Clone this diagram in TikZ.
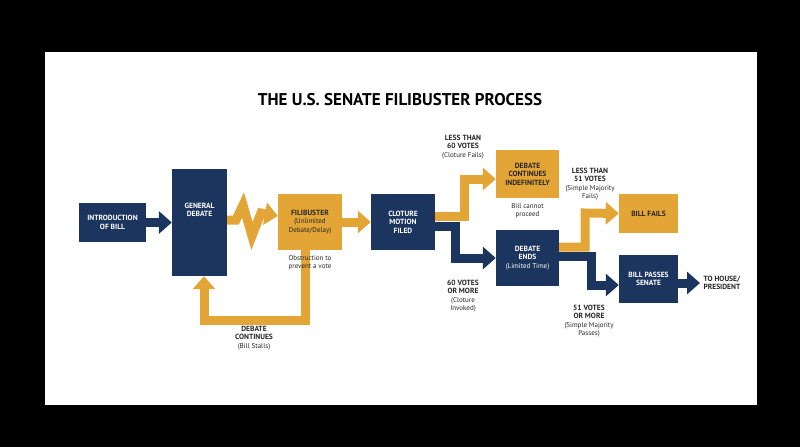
\documentclass[tikz,border=0pt]{standalone}
\usepackage{fontspec}
\setmainfont{PT Sans}
\usetikzlibrary{arrows.meta}
\definecolor{navy}{HTML}{1C355E}
\definecolor{gold}{HTML}{E3A536}
\newcommand\smtxt{\mdseries\fontsize{7}{8}\selectfont}
\begin{document}
\begin{tikzpicture}[x=1pt,y=-1pt,
  box/.style={draw=none,inner sep=1pt,align=center,font=\bfseries\fontsize{7.5}{8.5}\selectfont},
  nb/.style={fill=navy,text=white},
  gb/.style={fill=gold,text=black!85},
  lab/.style={align=center,font=\bfseries\fontsize{7.5}{8.5}\selectfont,text=black!85},
  note/.style={align=center,font=\fontsize{7}{8}\selectfont,text=black!85},
  ga/.style={draw=gold,line width=9pt,line join=miter,-{Triangle[width=22pt,length=13pt]}},
  na/.style={draw=navy,line width=9pt,line join=miter,-{Triangle[width=22pt,length=13pt]}}]
\fill[black] (0,0) rectangle (800,447);
\fill[white] (45,52) rectangle (757,405);
\node[font=\bfseries\fontsize{17}{19}\selectfont] (title) at (400,100) {THE U.S. SENATE FILIBUSTER PROCESS};
\node[box,nb,minimum width=67pt,minimum height=39pt] (intro) at (112.5,222.5) {INTRODUCTION\\OF BILL};
\node[box,nb,minimum width=55pt,minimum height=107pt] (gen) at (199.5,222.5) {};
\node[box,text=white] (gent) at (199.5,210) {GENERAL\\DEBATE};
\node[box,gb,minimum width=64pt,minimum height=56pt] (fil) at (310,222) {FILIBUSTER\\\smtxt (Unlimited\\\smtxt Debate/Delay)};
\node[box,nb,minimum width=64pt,minimum height=56pt] (clo) at (403,222) {CLOTURE\\MOTION\\FILED};
\node[box,gb,minimum width=63pt,minimum height=48pt] (dci) at (527.5,174) {DEBATE\\CONTINUES\\INDEFINITELY};
\node[box,nb,minimum width=63pt,minimum height=56pt] (den) at (527.5,258) {DEBATE\\ENDS\\\smtxt (Limited Time)};
\node[box,gb,minimum width=59pt,minimum height=39pt] (fail) at (648.5,213.5) {BILL FAILS};
\node[box,nb,minimum width=59pt,minimum height=48pt] (pass) at (648.5,279) {BILL PASSES\\SENATE};
\node[lab,anchor=west] (house) at (700,283) {TO HOUSE/\\PRESIDENT};
% connectors
\draw[na] (intro.east) -- (gen.west|-intro.east);
\draw[ga] ([yshift=2.5pt]gen.east) -- (236,220) -- (243,205) -- (252,236) -- (261,213) -- ([yshift=6pt]fil.west);
\draw[ga] (fil.east) -- (clo.west);
\draw[ga] ([xshift=-5pt]fil.south) -- (305,320) -- (204,320) -- ([xshift=4.5pt]gen.south);
\draw[ga] ([yshift=6pt]clo.east) -- (464,216) -- (464,179) -- ([yshift=-5pt]dci.west);
\draw[na] ([yshift=-4pt]clo.east) -- (455,226) -- (455,258) -- (den.west);
\draw[ga] ([yshift=11pt]den.east) -- (585,247) -- (585,213) -- (fail.west);
\draw[na] ([yshift=2pt]den.east) -- (591,256) -- (591,285) -- ([yshift=-6pt]pass.west);
\draw[na] ([yshift=-4pt]pass.east) -- (house.west);
% labels
\node[lab] (l60) at (463,147) {LESS THAN\\60 VOTES\\\smtxt (Cloture Fails)};
\node[lab] (g60) at (463,296) {60 VOTES\\OR MORE\\\smtxt (Cloture\\\smtxt Invoked)};
\node[note] (nc) at (527.5,211) {Bill cannot\\proceed};
\node[lab] (l51) at (590,184) {LESS THAN\\51 VOTES\\\smtxt (Simple Majority\\\smtxt Fails)};
\node[lab] (g51) at (589,321) {51 VOTES\\OR MORE\\\smtxt (Simple Majority\\\smtxt Passes)};
\node[note] (ob) at (310,263) {Obstruction to\\prevent a vote};
\node[lab] (dc) at (254,338) {DEBATE\\CONTINUES\\\smtxt (Bill Stalls)};
\end{tikzpicture}
\end{document}
